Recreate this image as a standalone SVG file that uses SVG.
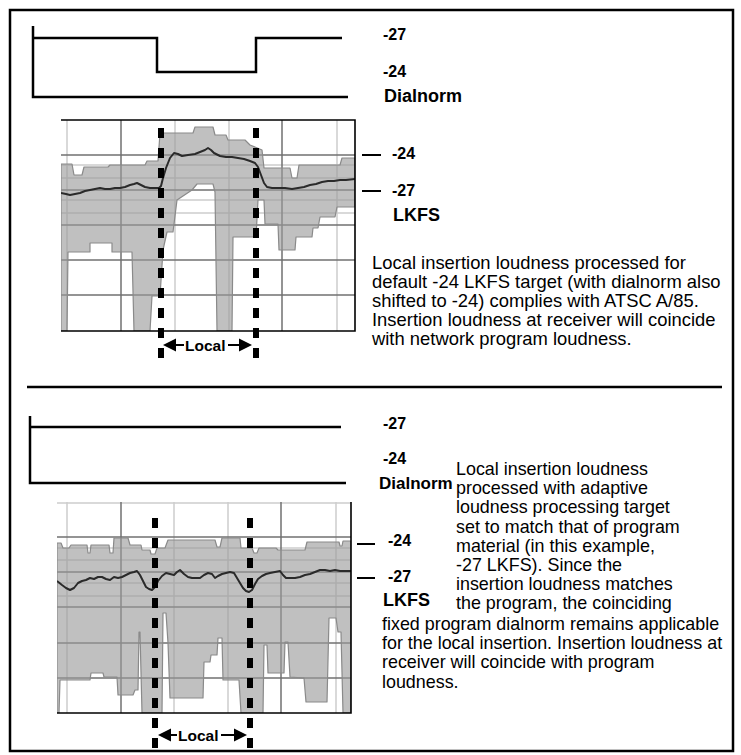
<svg xmlns="http://www.w3.org/2000/svg" width="741" height="755" viewBox="0 0 741 755">
<style>
.ln{stroke:#000;stroke-width:2.5;fill:none}
.gd{stroke:#707070;stroke-width:1.5}
.gl{stroke:#cdcdcd;stroke-width:1.5}
.env{fill:#999;fill-opacity:0.62;stroke:#8a8a8a;stroke-width:1.2;stroke-linejoin:round}
.loud{fill:none;stroke:#2a2a2a;stroke-width:2;stroke-linejoin:round}
.dot{stroke:#000;stroke-width:6;stroke-dasharray:10 10;fill:none}
.frame{stroke:#000;stroke-width:1.6;fill:none}
.num{font-family:"Liberation Sans",Arial,sans-serif;font-weight:bold;font-size:16px;fill:#000}
.word{font-family:"Liberation Sans",Arial,sans-serif;font-weight:bold;font-size:18px;fill:#000}
.loc{font-family:"Liberation Sans",Arial,sans-serif;font-weight:bold;font-size:15.5px;fill:#000}
.body{font-family:"Liberation Sans",Arial,sans-serif;font-size:18.4px;fill:#000}
.body2{font-family:"Liberation Sans",Arial,sans-serif;font-size:17.9px;fill:#000}
.tick{stroke:#000;stroke-width:2}
.arr{stroke:#000;stroke-width:2}
</style>
<defs>
<clipPath id="c1"><rect x="61" y="120" width="294" height="211"/></clipPath>
<clipPath id="c2"><rect x="57" y="502" width="294" height="211"/></clipPath>
</defs>
<rect x="0" y="0" width="741" height="755" fill="#fff"/>
<g id="border"><rect x="10" y="10" width="723" height="741" fill="none" stroke="#000" stroke-width="2.5"/>
<line x1="27" y1="387" x2="722" y2="387" stroke="#000" stroke-width="2.5"/></g>

<g id="dialnorm-top">
<path class="ln" d="M33 26 V97 H348"/>
<path class="ln" d="M33 38 H157 V72 H256 V38 H342"/>
<text class="num" x="383" y="40">-27</text>
<text class="num" x="383" y="77">-24</text>
<text class="word" x="384" y="102">Dialnorm</text>
</g>

<g id="chart-top">
<g clip-path="url(#c1)">
<g>
<line class="gl" x1="61" y1="165" x2="355" y2="165"/><line class="gl" x1="61" y1="178" x2="355" y2="178"/>
<line class="gl" x1="61" y1="200" x2="355" y2="200"/><line class="gl" x1="61" y1="213" x2="355" y2="213"/>
<line class="gl" x1="67" y1="120" x2="67" y2="331"/><line class="gl" x1="175" y1="120" x2="175" y2="331"/>
<line class="gl" x1="229" y1="120" x2="229" y2="331"/><line class="gl" x1="337" y1="120" x2="337" y2="331"/>
<line class="gd" x1="61" y1="155" x2="355" y2="155"/><line class="gd" x1="61" y1="190" x2="355" y2="190"/>
<line class="gd" x1="61" y1="225" x2="355" y2="225"/><line class="gd" x1="61" y1="260" x2="355" y2="260"/>
<line class="gd" x1="61" y1="295" x2="355" y2="295"/>
<line class="gd" x1="121" y1="120" x2="121" y2="331"/><line class="gd" x1="282" y1="120" x2="282" y2="331"/>
</g>
<polygon class="env" points="61,164 72,164 74,175 82,175 84,167 108,167 110,165 145,165 147,161 158,161 160,133 193,133 195,127 213,127 215,135 226,135 228,140 245,140 250,145 262,150 264,168 290,168 292,178 297,178 299,165 340,165 342,158 355,158 355,207 337,207 335,217 320,217 318,228 313,228 312,237 296,237 295,250 279,250 278,224 265,224 264,200 258,200 256,237 236,237 233,237 232,331 217,331 215,192 213,184 197,184 192,190 177,200 173,232 167,232 163,250 160,296 152,296 150,331 134,331 132,252 112,252 112,243 90,243 90,252 68,252 67,331 61,331"/>
<polyline class="loud" points="61,193 66,194 70,195 75,194 80,193 85,191 90,190 95,189 100,188 105,189 110,189 115,188 120,188 125,187 130,185 134,184 137,183 141,185 145,187 150,188 155,188 159,188 161,186 163,178 166,168 170,158 174,153 178,154 182,156 188,155 195,154 200,152 205,150 208,148 211,150 214,153 220,156 226,157 232,157 238,158 244,159 250,161 255,163 258,167 261,175 264,183 267,187 272,188 278,188 285,188 292,189 298,188 304,187 310,185 316,184 322,182 328,181 334,181 340,180 346,180 355,179"/>
</g>
<path class="frame" d="M61 120 H355 V331 H61"/>
<line class="tick" x1="362" y1="155" x2="381" y2="155"/>
<line class="tick" x1="362" y1="191" x2="381" y2="191"/>
<text class="num" x="392" y="159">-24</text>
<text class="num" x="392" y="196">-27</text>
<text class="word" x="393" y="221">LKFS</text>
</g>

<g id="text-top">
<text class="body" x="372" y="269">Local insertion loudness processed for</text>
<text class="body" x="372" y="288">default -24 LKFS target (with dialnorm also</text>
<text class="body" x="372" y="307">shifted to -24) complies with ATSC A/85.</text>
<text class="body" x="372" y="326">Insertion loudness at receiver will coincide</text>
<text class="body" x="372" y="345">with network program loudness.</text>
</g>

<g id="dialnorm-bottom">
<path class="ln" d="M30 416 V483 H346"/>
<path class="ln" d="M30 427 H341"/>
<text class="num" x="383" y="429">-27</text>
<text class="num" x="383" y="464">-24</text>
<text class="word" x="379" y="489" style="font-size:17px">Dialnorm</text>
</g>

<g id="chart-bottom">
<g clip-path="url(#c2)">
<g>
<line class="gl" x1="57" y1="503" x2="351" y2="503"/>
<line class="gl" x1="57" y1="548" x2="351" y2="548"/><line class="gl" x1="57" y1="560" x2="351" y2="560"/>
<line class="gl" x1="57" y1="583" x2="351" y2="583"/><line class="gl" x1="57" y1="596" x2="351" y2="596"/>
<line class="gl" x1="67" y1="502" x2="67" y2="713"/><line class="gl" x1="174" y1="502" x2="174" y2="713"/>
<line class="gl" x1="228" y1="502" x2="228" y2="713"/><line class="gl" x1="336" y1="502" x2="336" y2="713"/>
<line class="gd" x1="57" y1="537" x2="351" y2="537" stroke="#8a8a8a"/><line class="gd" x1="57" y1="572" x2="351" y2="572"/>
<line class="gd" x1="57" y1="607" x2="351" y2="607"/><line class="gd" x1="57" y1="643" x2="351" y2="643"/>
<line class="gd" x1="57" y1="678" x2="351" y2="678"/>
<line class="gd" x1="121" y1="502" x2="121" y2="713"/><line class="gd" x1="281" y1="502" x2="281" y2="713"/>
</g>
<polygon class="env" points="57,543 61,543 63,548 69,548 71,545 87,545 88,553 90,553 91,545 109,545 110,553 113,553 114,538 128,538 130,545 141,545 142,550 150,550 151,554 155,554 157,548 165,548 168,540 215,540 217,547 220,547 222,538 240,538 241,548 252,548 254,553 257,553 259,548 276,548 278,550 305,550 307,542 339,542 340,546 342,546 343,541 351,541 351,713 343,713 341,632 338,632 336,618 329,618 327,702 306,702 304,678 290,677 288,642 285,642 284,673 268,673 267,645 264,645 263,713 241,713 239,680 223,680 222,638 218,638 217,655 211,655 210,662 204,662 203,698 170,698 168,643 166,613 163,613 162,713 142,713 140,632 139,632 138,690 135,690 133,695 118,695 117,677 104,677 103,673 91,673 90,680 60,680 59,713 57,713"/>
<polyline class="loud" points="57,581 62,585 66,588 70,590 74,588 78,583 82,581 86,580 90,578 94,579 98,577 102,577 106,579 110,580 114,577 118,578 122,577 126,575 130,573 134,572 137,571 140,575 143,581 146,587 149,589 152,590 155,587 158,581 162,576 166,573 170,574 174,575 177,572 180,570 184,574 188,577 192,578 196,578 200,578 204,575 208,573 212,574 215,578 218,576 222,574 226,573 230,572 234,573 237,578 240,583 243,588 246,591 249,592 252,590 255,584 258,579 262,576 266,574 270,573 275,572 280,571 283,575 286,578 290,578 295,578 300,577 305,575 310,574 315,572 320,570 325,570 330,571 335,570 340,571 345,571 351,571"/>
</g>
<path class="frame" d="M351 502 V713 H57"/>
<line class="tick" x1="357" y1="544" x2="375" y2="544"/>
<line class="tick" x1="357" y1="578" x2="375" y2="578"/>
<text class="num" x="388" y="546">-24</text>
<text class="num" x="388" y="582">-27</text>
<text class="word" x="383" y="606">LKFS</text>
</g>

<g id="text-bottom">
<text class="body2" x="456" y="475">Local insertion loudness</text>
<text class="body2" x="456" y="494.2">processed with adaptive</text>
<text class="body2" x="456" y="513.4">loudness processing target</text>
<text class="body2" x="456" y="532.6">set to match that of program</text>
<text class="body2" x="456" y="551.8">material (in this example,</text>
<text class="body2" x="456" y="571">-27 LKFS). Since the</text>
<text class="body2" x="456" y="590.2">insertion loudness matches</text>
<text class="body2" x="456" y="609.4">the program, the coinciding</text>
<text class="body2" x="382" y="630">fixed program dialnorm remains applicable</text>
<text class="body2" x="382" y="649.2">for the local insertion. Insertion loudness at</text>
<text class="body2" x="382" y="668.4">receiver will coincide with program</text>
<text class="body2" x="382" y="687.6">loudness.</text>
</g>

<g id="connectors">
<line class="dot" x1="161" y1="128" x2="161" y2="358"/>
<line class="dot" x1="256" y1="128" x2="256" y2="358"/>
<line class="dot" x1="155" y1="518" x2="155" y2="748"/>
<line class="dot" x1="250" y1="518" x2="250" y2="748"/>
<g id="local-top">
<polygon points="163,345 176,338.5 176,351.5"/>
<line class="arr" x1="175" y1="345" x2="184" y2="345"/>
<text class="loc" x="185" y="350.5">Local</text>
<line class="arr" x1="228" y1="345" x2="240" y2="345"/>
<polygon points="252,345 239,338.5 239,351.5"/>
</g>
<g id="local-bottom">
<polygon points="158,735 171,728.5 171,741.5"/>
<line class="arr" x1="170" y1="735" x2="177" y2="735"/>
<text class="loc" x="178" y="740.5">Local</text>
<line class="arr" x1="221" y1="735" x2="235" y2="735"/>
<polygon points="247,735 234,728.5 234,741.5"/>
</g>
</g>
</svg>
